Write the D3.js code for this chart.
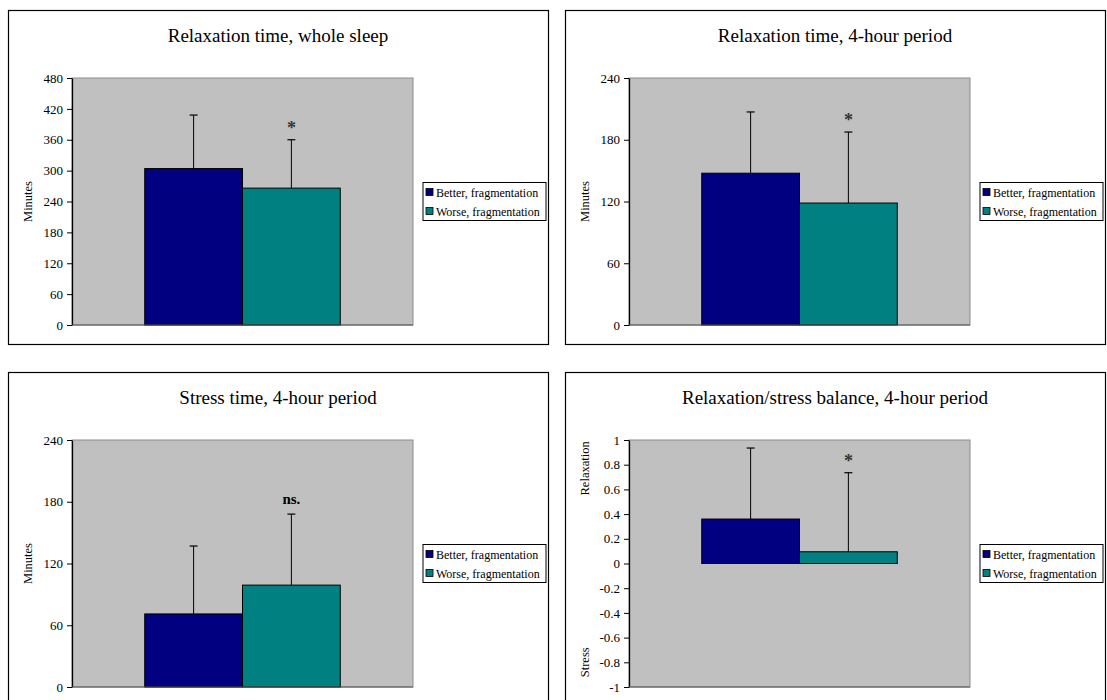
<!DOCTYPE html>
<html>
<head>
<meta charset="utf-8">
<script src="https://cdn.jsdelivr.net/npm/d3@7"></script>
<style>
  body { margin: 0; background: #fff; }
  svg { display: block; }
  svg text { font-family: "Liberation Serif", "Times New Roman", serif; }
</style>
</head>
<body>
<script>
//// Data ////////////////////////////////////////////
const titles = [
    "Relaxation time, whole sleep",
    "Relaxation time, 4-hour period",
    "Stress time, 4-hour period",
    "Relaxation/stress balance, 4-hour period"
]
const seriesNames = ["Better, fragmentation", "Worse, fragmentation"]
const betterMean = [304, 147.5, 71, 0.36]
const worseMean = [266, 118.5, 99, 0.095]
const betterSD = [104, 59.5, 66, 0.575]
const worseSD = [94, 69, 69, 0.64]
const markers = ["*", "*", "ns.", "*"]
const yMin = [0, 0, 0, -1]
const yMax = [480, 240, 240, 1]
const yTicks = [
    [0, 60, 120, 180, 240, 300, 360, 420, 480],
    [0, 60, 120, 180, 240],
    [0, 60, 120, 180, 240],
    [-1, -0.8, -0.6, -0.4, -0.2, 0, 0.2, 0.4, 0.6, 0.8, 1]
]

//// Layout //////////////////////////////////////////
const WIDTH = 1107
const HEIGHT = 700
const boxW = 540
const boxH = 334
const boxOrigins = [[8, 10], [565, 10], [8, 372], [565, 372]]
const plot = { left: 64, top: 68, width: 341, height: 247 }
const colors = ["#000080", "#008080"]
const FONT = "Liberation Serif, Times New Roman, serif"

const svg = d3.select("body").append("svg")
    .attr("width", WIDTH)
    .attr("height", HEIGHT)
    .attr("font-family", FONT)

function drawPanel(i) {
    const [bx, by] = boxOrigins[i]
    const g = svg.append("g").attr("transform", `translate(${bx},${by})`)

    // outer frame
    g.append("rect")
        .attr("x", 0.5).attr("y", 0.5)
        .attr("width", boxW).attr("height", boxH)
        .attr("fill", "#fff").attr("stroke", "#000").attr("stroke-width", 1.2)

    g.append("text")
        .attr("x", boxW / 2).attr("y", 32)
        .attr("text-anchor", "middle")
        .attr("font-size", 19)
        .text(titles[i])

    const p = g.append("g").attr("transform", `translate(${plot.left},${plot.top})`)

    const y = d3.scaleLinear().domain([yMin[i], yMax[i]]).range([plot.height, 0])
    const x0 = d3.scaleBand().domain(["g"]).range([0, plot.width])
        .paddingInner(0).paddingOuter(0.372)
    const x1 = d3.scaleBand().domain(seriesNames).range([0, x0.bandwidth()])

    p.append("rect")
        .attr("width", plot.width).attr("height", plot.height)
        .attr("fill", "#c0c0c0").attr("stroke", "#8c8c8c").attr("stroke-width", 1)

    const means = [betterMean[i], worseMean[i]]
    const sds = [betterSD[i], worseSD[i]]
    const rows = seriesNames.map((s, k) => ({ s, m: means[k], sd: sds[k], c: colors[k] }))
    const base = Math.max(yMin[i], 0)

    const bars = p.append("g").attr("transform", `translate(${x0("g")},0)`)
    bars.selectAll("rect").data(rows).join("rect")
        .attr("x", d => x1(d.s))
        .attr("y", d => y(Math.max(d.m, base)))
        .attr("width", x1.bandwidth())
        .attr("height", d => Math.abs(y(d.m) - y(base)))
        .attr("fill", d => d.c)
        .attr("stroke", "#000").attr("stroke-width", 1)

    // error bars (upper only)
    const eb = bars.selectAll("g.err").data(rows).join("g").attr("class", "err")
    eb.append("line")
        .attr("x1", d => x1(d.s) + x1.bandwidth() / 2)
        .attr("x2", d => x1(d.s) + x1.bandwidth() / 2)
        .attr("y1", d => y(d.m))
        .attr("y2", d => y(d.m + d.sd))
        .attr("stroke", "#000").attr("stroke-width", 1)
    eb.append("line")
        .attr("x1", d => x1(d.s) + x1.bandwidth() / 2 - 4)
        .attr("x2", d => x1(d.s) + x1.bandwidth() / 2 + 4)
        .attr("y1", d => y(d.m + d.sd))
        .attr("y2", d => y(d.m + d.sd))
        .attr("stroke", "#000").attr("stroke-width", 1.2)

    // significance marker above the worse group
    const w = rows[1]
    const isStar = markers[i] === "*"
    bars.append("text")
        .attr("x", x1(w.s) + x1.bandwidth() / 2)
        .attr("y", y(w.m + w.sd) - (isStar ? 6 : 10))
        .attr("text-anchor", "middle")
        .attr("font-size", isStar ? 18 : 15)
        .attr("font-weight", "bold")
        .attr("fill", isStar ? "#333" : "#000")
        .text(markers[i])

    // axes
    const fmt = v => String(+v.toFixed(1))
    const yAxis = p.append("g")
        .call(d3.axisLeft(y).tickValues(yTicks[i]).tickFormat(fmt).tickSize(5).tickSizeOuter(0).tickPadding(4))
    yAxis.attr("font-family", FONT)
    yAxis.select(".domain").attr("stroke", "#000").attr("stroke-width", 1.3)
    yAxis.selectAll("line").attr("stroke", "#000")
    yAxis.selectAll("text").attr("font-size", 13).attr("fill", "#000")

    p.append("line")
        .attr("x1", 0).attr("x2", plot.width)
        .attr("y1", plot.height).attr("y2", plot.height)
        .attr("stroke", "#555").attr("stroke-width", 1)

    // y axis titles
    if (i < 3) {
        g.append("text")
            .attr("transform", `translate(24,${plot.top + plot.height / 2}) rotate(-90)`)
            .attr("text-anchor", "middle")
            .attr("font-size", 12.5)
            .text("Minutes")
    } else {
        g.append("text")
            .attr("transform", `translate(24,${plot.top + y(0.77)}) rotate(-90)`)
            .attr("text-anchor", "middle")
            .attr("font-size", 12.5)
            .text("Relaxation")
        g.append("text")
            .attr("transform", `translate(24,${plot.top + y(-0.8)}) rotate(-90)`)
            .attr("text-anchor", "middle")
            .attr("font-size", 12.5)
            .text("Stress")
    }

    // legend
    const lg = g.append("g")
        .attr("transform", `translate(${plot.left + plot.width + 10},${plot.top + plot.height / 2 - 19})`)
    lg.append("rect")
        .attr("width", 123).attr("height", 38)
        .attr("fill", "#fff").attr("stroke", "#000").attr("stroke-width", 1)
    const items = lg.selectAll("g.item").data(rows).join("g")
        .attr("class", "item")
        .attr("transform", (d, k) => `translate(3,${10 + k * 19})`)
    items.append("rect")
        .attr("x", 0).attr("y", -4)
        .attr("width", 7).attr("height", 7)
        .attr("fill", d => d.c).attr("stroke", "#000").attr("stroke-width", 0.8)
    items.append("text")
        .attr("x", 10).attr("y", 4)
        .attr("font-size", 12)
        .text(d => d.s)
}

for (let i = 0; i < titles.length; i++) {
    drawPanel(i)
}
</script>
</body>
</html>
